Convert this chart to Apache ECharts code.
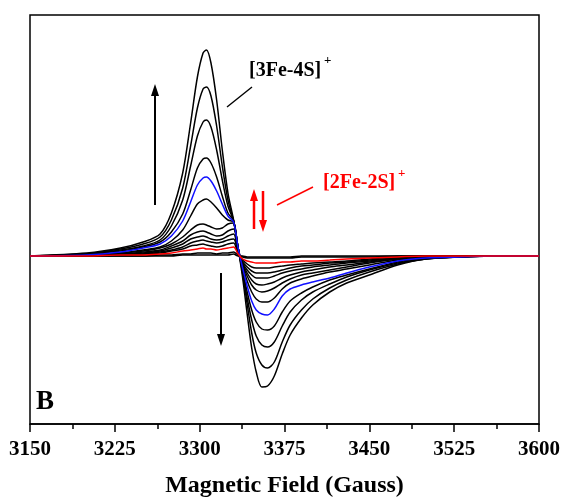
<!DOCTYPE html>
<html>
<head>
<meta charset="utf-8">
<script src="https://cdn.jsdelivr.net/npm/echarts@6/dist/echarts.min.js"></script>
<style>
  html, body { margin: 0; padding: 0; background: #fff; }
  #chart { width: 562px; height: 498px; }
</style>
</head>
<body>
<div id="chart"></div>
<script>
const fields = [3150, 3200, 3230, 3250, 3265, 3275, 3285, 3292, 3298, 3303, 3306, 3310, 3315, 3320, 3325, 3330, 3334, 3338, 3342, 3346, 3350, 3355, 3360, 3366, 3373, 3380, 3390, 3400, 3415, 3430, 3450, 3475, 3500, 3530, 3560, 3600]

// EPR intensity (a.u.), largest spectrum first
const spec1 = [0, 3, 8, 14, 22, 43, 83, 133, 179, 203, 206, 193, 156, 106, 63, 36, 8, -22, -58, -92, -116, -131, -130, -120, -98, -79, -62, -49, -36, -27, -19, -9, -3, -1, 0, 0]
const spec2 = [0, 2, 7, 12, 19, 36, 68, 110, 148, 167, 169, 160, 130, 90, 56, 35, 8, -18, -48, -77, -97, -109, -112, -106, -86, -69, -54, -43, -32, -24, -16, -8, -3, -1, 0, 0]
const spec3 = [0, 2, 6, 10, 16, 30, 56, 90, 120, 134, 136, 129, 106, 76, 50, 35, 8, -16, -42, -64, -80, -89, -91, -86, -70, -56, -44, -36, -28, -21, -14, -7, -3, -1, 0, 0]
const spec4 = [0, 2, 5, 9, 14, 24, 42, 66, 88, 97, 98, 93, 79, 60, 43, 35, 8, -14, -36, -54, -66, -73, -74, -70, -56, -45, -37, -31, -24, -19, -13, -6, -2, -1, 0, 0]
const specBlue = [0, 1, 4, 8, 12, 20, 35, 54, 71, 78, 79, 75, 65, 52, 40, 34, 8, -12, -30, -45, -54, -58, -59, -53, -40, -33, -29, -26, -22, -17, -11, -5, -2, -1, 0, 0]
const spec6 = [0, 1, 3, 6, 9, 15, 26, 40, 52, 56, 57, 54, 48, 41, 36, 34, 8, -10, -25, -36, -43, -46, -46, -42, -33, -27, -23, -20, -16, -13, -9, -4, -2, -1, 0, 0]
const spec7 = [0, 1, 3, 5, 8, 12, 19, 26, 31, 32, 31, 29, 27, 28, 32, 33, 6, -9, -20, -29, -34, -36, -35, -32, -27, -23, -19, -17, -14, -11, -7, -3, -1, 0, 0, 0]
const spec8 = [0, 1, 2, 4, 6, 10, 15, 21, 24, 25, 24, 22, 20, 21, 25, 27, 5, -8, -17, -24, -28, -29, -28, -26, -22, -19, -16, -14, -11, -9, -6, -3, -1, 0, 0, 0]
const spec9 = [0, 1, 2, 3, 5, 8, 12, 17, 19, 20, 19, 17, 16, 17, 20, 22, 4, -7, -14, -19, -22, -22, -22, -20, -17, -15, -13, -11, -9, -7, -5, -2, -1, 0, 0, 0]
const spec10 = [0, 0, 1, 2, 4, 6, 9, 13, 15, 16, 15, 14, 13, 14, 16, 17, 3, -6, -11, -15, -17, -17, -17, -16, -14, -12, -10, -9, -7, -6, -4, -2, -1, 0, 0, 0]
const spec11 = [0, 0, 1, 2, 3, 5, 7, 10, 11, 12, 11, 10, 9, 10, 12, 13, 2, -4, -8, -11, -12, -12, -12, -11, -10, -9, -8, -7, -6, -5, -3, -1, 0, 0, 0, 0]
const specRed = [0, 0, 1, 1, 2, 3, 5, 6, 7, 8, 7, 7, 6, 7, 8, 9, 2, -3, -5, -6, -7, -7, -7, -7, -6, -6, -5, -5, -4, -3, -2, -1, 0, 0, 0, 0]
const spec13 = [0, 0, 0, 0, 1, 1, 2, 2, 3, 3, 3, 3, 2, 3, 3, 4, 1, -1, -2, -2, -2, -2, -2, -2, -2, -2, -1, -1, -1, -1, -1, 0, 0, 0, 0, 0]
const spec14 = [0, 0, 0, 0, 0, 0, 1, 1, 1, 1, 1, 1, 1, 1, 1, 2, 0, 0, -1, -1, -1, -1, -1, -1, -1, -1, 0, 0, 0, 0, 0, 0, 0, 0, 0, 0]

const spectra = [spec1, spec2, spec3, spec4, specBlue, spec6, spec7, spec8, spec9, spec10, spec11, specRed, spec13, spec14]
const colors = ['#000', '#000', '#000', '#000', '#1010ff', '#000', '#000', '#000', '#000', '#000', '#000', '#ff0000', '#000', '#000']

const serif = '"Liberation Serif", "Times New Roman", serif'

const chart = echarts.init(document.getElementById('chart'))

function arrow(x, yFrom, yTo, color, width, headW, headL) {
  const dir = yTo < yFrom ? -1 : 1
  const base = yTo - dir * headL
  return {
    type: 'group',
    children: [
      { type: 'line', shape: { x1: x, y1: yFrom, x2: x, y2: base }, style: { stroke: color, lineWidth: width } },
      { type: 'polygon', shape: { points: [[x, yTo], [x - headW, base], [x + headW, base]] }, style: { fill: color } }
    ]
  }
}

const option = {
  animation: false,
  grid: {
    left: 30,
    right: 23,
    top: 15,
    bottom: 74,
    outerBoundsMode: 'none',
    containLabel: false,
    show: true,
    borderColor: '#000',
    borderWidth: 1.5
  },
  xAxis: {
    type: 'value',
    min: 3150,
    max: 3600,
    interval: 75,
    name: 'Magnetic Field (Gauss)',
    nameLocation: 'middle',
    nameGap: 50,
    nameTextStyle: { fontFamily: serif, fontWeight: 'bold', fontSize: 24, color: '#000' },
    axisLine: { onZero: false, lineStyle: { color: '#000', width: 1.5 } },
    axisTick: { length: 8, lineStyle: { color: '#000', width: 1.5 } },
    minorTick: { show: true, splitNumber: 2, length: 5, lineStyle: { color: '#000', width: 1.5 } },
    axisLabel: {
      margin: 15,
      fontFamily: serif,
      fontWeight: 'bold',
      fontSize: 21,
      color: '#000',
      formatter: v => String(v)
    },
    splitLine: { show: false }
  },
  yAxis: {
    type: 'value',
    min: -168,
    max: 241,
    show: false
  },
  series: spectra.map((vals, i) => ({
    type: 'line',
    data: fields.map((f, j) => [f, vals[j]]),
    showSymbol: false,
    smooth: 0.3,
    z: i === 4 || i === 11 ? 3 : 2,
    lineStyle: { color: colors[i], width: 1.5 }
  })),
  graphic: [
    arrow(155, 205, 84, '#000', 2, 4, 12),
    arrow(221, 273, 346, '#000', 2, 4, 12),
    arrow(254, 229, 189, '#ff0000', 2.5, 4, 12),
    arrow(263, 191, 232, '#ff0000', 2.5, 4, 12),
    { type: 'line', shape: { x1: 252, y1: 87, x2: 227, y2: 107 }, style: { stroke: '#000', lineWidth: 1.5 } },
    { type: 'line', shape: { x1: 313, y1: 187, x2: 277, y2: 205 }, style: { stroke: '#ff0000', lineWidth: 1.5 } },
    { type: 'text', x: 249, y: 81, style: { text: '[3Fe-4S]', font: 'bold 20px ' + serif, fill: '#000', textVerticalAlign: 'bottom' } },
    { type: 'text', x: 324, y: 67, style: { text: '+', font: 'bold 13px ' + serif, fill: '#000', textVerticalAlign: 'bottom' } },
    { type: 'text', x: 323, y: 193, style: { text: '[2Fe-2S]', font: 'bold 20px ' + serif, fill: '#ff0000', textVerticalAlign: 'bottom' } },
    { type: 'text', x: 398, y: 180, style: { text: '+', font: 'bold 13px ' + serif, fill: '#ff0000', textVerticalAlign: 'bottom' } },
    { type: 'text', x: 36, y: 416, style: { text: 'B', font: 'bold 27px ' + serif, fill: '#000', textVerticalAlign: 'bottom' } }
  ]
}

chart.setOption(option)
</script>
</body>
</html>
